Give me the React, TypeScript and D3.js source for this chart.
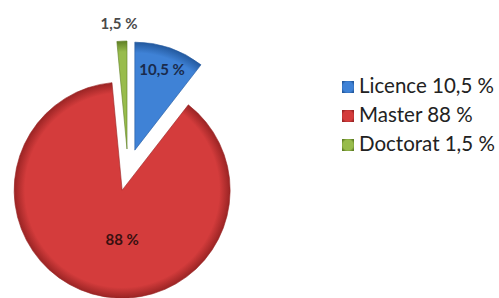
import React from "react";
import * as d3 from "d3";

const categories = ["Licence", "Master", "Doctorat"];
const values = [10.5, 88, 1.5];
const valueLabels = ["10,5 %", "88 %", "1,5 %"];
const legendLabels = ["Licence 10,5 %", "Master 88 %", "Doctorat 1,5 %"];
const colors = ["#3f82d6", "#d43c3c", "#98bc4c"];
const darkColors = ["#23599e", "#9a2424", "#5f7f25"];

const W = 499;
const H = 298;
const cx = 128;
const cy = 170;
const radius = 108;
const explode = 21;

const App = () => {
  const pie = d3
    .pie<number>()
    .value(d => d)
    .sort(null);
  const arc = d3.arc<d3.PieArcDatum<number>>().innerRadius(0).outerRadius(radius);
  const arcs = pie(values);

  const mid = (d: d3.PieArcDatum<number>) => (d.startAngle + d.endAngle) / 2;
  const shift = (d: d3.PieArcDatum<number>, dist: number) => [
    Math.sin(mid(d)) * dist,
    -Math.cos(mid(d)) * dist,
  ];

  // label positions: inside for the big ones, outside for the thin one
  const labelPos = (d: d3.PieArcDatum<number>, i: number) => {
    const [dx, dy] = shift(d, explode);
    if (i === 2) return [dx - 8, dy - radius - 16];
    if (i === 1) return [dx, dy + radius * 0.47];
    const r = radius * 0.78;
    return [dx + Math.sin(mid(d)) * r, dy - Math.cos(mid(d)) * r + 1];
  };

  const legendY = d3.scalePoint<string>().domain(categories).range([87, 145]);

  return (
    <div style={{ position: "absolute", left: 0, top: 0 }}>
      <svg width={W} height={H} style={{ display: "block", background: "#fff" }}>
        <defs>
          {colors.map((c, i) => (
            <radialGradient key={i} id={`g${i}`} cx="50%" cy="50%" r="60%">
              <stop offset="0%" stopColor={c} />
              <stop offset="70%" stopColor={c} />
              <stop offset="100%" stopColor={darkColors[i]} />
            </radialGradient>
          ))}
          {colors.map((c, i) => (
            <radialGradient key={"p" + i} id={`pg${i}`} cx={0} cy={0} r={radius} gradientUnits="userSpaceOnUse">
              <stop offset="0%" stopColor={c} />
              <stop offset="90%" stopColor={c} />
              <stop offset="100%" stopColor={darkColors[i]} />
            </radialGradient>
          ))}
        </defs>
        <g transform={`translate(${cx},${cy})`}>
          {arcs.map((d, i) => {
            const [dx, dy] = shift(d, explode);
            return (
              <g key={i} transform={`translate(${dx},${dy})`}>
                <path
                  d={arc(d) || ""}
                  fill={`url(#pg${i})`}
                  stroke={darkColors[i]}
                  strokeOpacity={0.6}
                  strokeWidth={1}
                />
              </g>
            );
          })}
          {arcs.map((d, i) => {
            const [x, y] = labelPos(d, i);
            return (
              <text
                key={"l" + i}
                x={x}
                y={y}
                textAnchor="middle"
                dominantBaseline="middle"
                fontFamily="Lato, 'Open Sans', sans-serif"
                fontWeight="bold"
                fontSize={15}
                fill={i === 0 ? "#1a2b4c" : i === 1 ? "#3a1010" : "#4a4a4a"}
              >
                {valueLabels[i]}
              </text>
            );
          })}
        </g>
        <g>
          {categories.map((c, i) => (
            <g key={c} transform={`translate(342,${legendY(c)})`}>
              <rect x={0} y={-6} width={12} height={12} fill={`url(#g${i})`} />
              <text
                x={17}
                y={1}
                dominantBaseline="middle"
                fontFamily="Lato, 'Open Sans', sans-serif"
                fontSize={20.5}
                fill="#222"
              >
                {legendLabels[i]}
              </text>
            </g>
          ))}
        </g>
      </svg>
    </div>
  );
};

export default App;
